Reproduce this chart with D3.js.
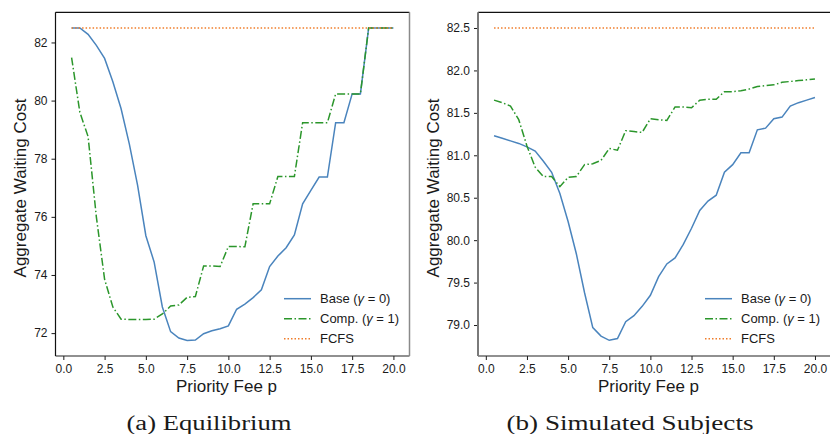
<!DOCTYPE html>
<html>
<head>
<meta charset="utf-8">
<script src="https://cdn.jsdelivr.net/npm/d3@7"></script>
<style>
  body { margin: 0; background: #fff; }
  text { font-family: "Liberation Sans", Arial, sans-serif; fill: #1a1a1a; }
</style>
</head>
<body>
<div id="my_datavis"></div>
<script>
var fees = [0.5, 1, 1.5, 2, 2.5, 3, 3.5, 4, 4.5, 5, 5.5, 6, 6.5, 7, 7.5, 8, 8.5, 9, 9.5, 10,
            10.5, 11, 11.5, 12, 12.5, 13, 13.5, 14, 14.5, 15, 15.5, 16, 16.5, 17, 17.5, 18, 18.5, 19, 19.5, 20]

// (a) Equilibrium
var eqBase = [82.5, 82.5, 82.28, 81.9, 81.45, 80.65, 79.72, 78.5, 77.08, 75.35, 74.45, 72.9, 72.05, 71.83, 71.75, 71.76,
              71.98, 72.08, 72.15, 72.25, 72.82, 73.0, 73.22, 73.49, 74.29, 74.65, 74.94, 75.38, 76.45, 76.91,
              77.37, 77.37, 79.24, 79.24, 80.23, 80.23, 82.5, 82.5, 82.5, 82.5]
var eqComp = [81.48, 79.6, 78.76, 76.0, 73.85, 72.9, 72.48, 72.47, 72.47, 72.47, 72.48, 72.66, 72.93, 72.97, 73.23, 73.26,
              74.31, 74.31, 74.29, 74.98, 74.98, 74.97, 76.45, 76.45, 76.45, 77.39, 77.39, 77.39, 79.24, 79.24,
              79.24, 79.24, 80.23, 80.23, 80.23, 80.23, 82.5, 82.5, 82.5, 82.5]

// (b) Simulated Subjects
var simBase = [81.23, 81.2, 81.17, 81.14, 81.1, 81.05, 80.93, 80.8, 80.55, 80.22, 79.84, 79.38, 78.97, 78.87, 78.82, 78.84,
               79.04, 79.11, 79.22, 79.35, 79.57, 79.72, 79.79, 79.95, 80.14, 80.35, 80.46, 80.53, 80.8, 80.89,
               81.03, 81.03, 81.3, 81.32, 81.43, 81.45, 81.58, 81.62, 81.65, 81.68]
var simComp = [81.65, 81.62, 81.58, 81.42, 81.11, 80.86, 80.75, 80.75, 80.63, 80.74, 80.75, 80.89, 80.9, 80.94, 81.08, 81.06,
               81.29, 81.28, 81.27, 81.43, 81.42, 81.41, 81.57, 81.57, 81.56, 81.65, 81.66, 81.66, 81.75, 81.75,
               81.76, 81.78, 81.81, 81.82, 81.83, 81.86, 81.87, 81.88, 81.89, 81.9]

var fcfs = 82.5

var xTicks = [0, 2.5, 5, 7.5, 10, 12.5, 15, 17.5, 20]
var eqTicks = [72, 74, 76, 78, 80, 82]
var simTicks = [79, 79.5, 80, 80.5, 81, 81.5, 82, 82.5]

var seriesNames = ["Base", "Comp.", "FCFS"]

var colors = { base: "#4a84bd", comp: "#2b962b", fcfs: "#f07d2a" }

var svg = d3.select("#my_datavis")
  .append("svg")
  .attr("width", 830)
  .attr("height", 434)

function panel(opt) {
  var x = d3.scaleLinear().domain([-0.475, 20.975]).range([opt.left, opt.right])
  var y = d3.scaleLinear().domain(opt.ydom).range([356, 12.3])

  var g = svg.append("g")

  var line = d3.line()
    .x(function(d, i) { return x(fees[i]) })
    .y(function(d) { return y(d) })

  g.append("path").datum(opt.base)
    .attr("d", line).attr("fill", "none")
    .attr("stroke", colors.base).attr("stroke-width", 1.5)
  g.append("path").datum(opt.comp)
    .attr("d", line).attr("fill", "none")
    .attr("stroke", colors.comp).attr("stroke-width", 1.5)
    .attr("stroke-dasharray", "8,2.5,1.5,2.5")
  g.append("path").datum(fees.map(function() { return fcfs }))
    .attr("d", line).attr("fill", "none")
    .attr("stroke", colors.fcfs).attr("stroke-width", 1.5)
    .attr("stroke-dasharray", "1.5,2")

  // axes
  var xa = g.append("g")
    .attr("transform", "translate(0,356)")
    .call(d3.axisBottom(x).tickValues(xTicks).tickFormat(d3.format(".1f")).tickSize(4).tickPadding(4))
  var ya = g.append("g")
    .attr("transform", "translate(" + opt.left + ",0)")
    .call(d3.axisLeft(y).tickValues(opt.yticks).tickFormat(d3.format(opt.yfmt)).tickSize(4).tickPadding(4))
  ;[xa, ya].forEach(function(a) {
    a.select(".domain").remove()
    a.selectAll("text").style("font-size", "12px").attr("fill", "#1a1a1a")
    a.selectAll("line").attr("stroke", "#1a1a1a")
  })

  // frame
  g.append("line").attr("x1", opt.left).attr("x2", opt.right).attr("y1", 12.3).attr("y2", 12.3)
    .attr("stroke", "#111").attr("stroke-width", 1.2)
  g.append("line").attr("x1", opt.left).attr("x2", opt.right).attr("y1", 356).attr("y2", 356)
    .attr("stroke", "#222").attr("stroke-width", 1.2)
  g.append("line").attr("x1", opt.left).attr("x2", opt.left).attr("y1", 12.3).attr("y2", 356)
    .attr("stroke", opt.leftSpine).attr("stroke-width", opt.leftSpine == "#111" ? 1.2 : 2)
  g.append("line").attr("x1", opt.right).attr("x2", opt.right).attr("y1", 12.3).attr("y2", 356)
    .attr("stroke", opt.rightSpine).attr("stroke-width", 1.5)

  // labels
  g.append("text")
    .attr("x", (opt.left + opt.right) / 2 - 6).attr("y", 392)
    .attr("text-anchor", "middle").style("font-size", "17px")
    .text("Priority Fee p")
  g.append("text")
    .attr("transform", "translate(" + opt.ylabX + ",188) rotate(-90)")
    .attr("text-anchor", "middle").style("font-size", "17px")
    .text("Aggregate Waiting Cost")
  g.append("text")
    .attr("x", opt.capX).attr("y", 430)
    .attr("text-anchor", "middle")
    .attr("textLength", opt.capW).attr("lengthAdjust", "spacingAndGlyphs")
    .style("font-family", "'Liberation Serif', 'DejaVu Serif', serif").style("font-size", "20px")
    .text(opt.caption)

  // legend
  var leg = g.append("g").attr("transform", "translate(" + opt.legX + ",0)")
  var legY = [298.7, 318.7, 338.7]
  var styles = [
    { c: colors.base, dash: null, gamma: "0" },
    { c: colors.comp, dash: "8,2.5,1.5,2.5", gamma: "1" },
    { c: colors.fcfs, dash: "1.5,2", gamma: null }
  ]
  seriesNames.forEach(function(name, i) {
    leg.append("line").attr("x1", 0).attr("x2", 27).attr("y1", legY[i]).attr("y2", legY[i])
      .attr("stroke", styles[i].c).attr("stroke-width", 1.5)
      .attr("stroke-dasharray", styles[i].dash)
    var t = leg.append("text").attr("x", 36).attr("y", legY[i] + 4.5).style("font-size", "13px")
    if (styles[i].gamma === null) {
      t.text(name)
    } else {
      t.append("tspan").text(name + " (")
      t.append("tspan").style("font-style", "italic").text("\u03b3")
      t.append("tspan").text(" = " + styles[i].gamma + ")")
    }
  })
}

panel({ left: 55.5, right: 409.5, ydom: [71.2125, 83.0375], yticks: eqTicks, yfmt: "d",
        base: eqBase, comp: eqComp, leftSpine: "#111", rightSpine: "#8a8a8a",
        ylabX: 26, capX: 209, capW: 165, caption: "(a) Equilibrium", legX: 284 })
panel({ left: 478, right: 831, ydom: [78.635, 82.685], yticks: simTicks, yfmt: ".1f",
        base: simBase, comp: simComp, leftSpine: "#7a7a7a", rightSpine: "#111",
        ylabX: 439, capX: 630, capW: 247, caption: "(b) Simulated Subjects", legX: 705 })
</script>
</body>
</html>
